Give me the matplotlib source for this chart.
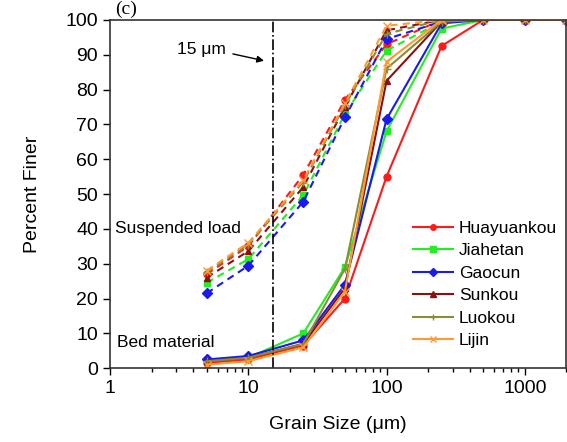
import matplotlib
matplotlib.use("Agg")
import matplotlib.pyplot as plt

plt.rcParams['font.family'] = ['Liberation Sans', 'DejaVu Sans']

sizes = [5, 10, 25, 50, 100, 250, 500, 1000, 2000]
sizes_susp = [5, 10, 25, 50, 100, 250]

stations = ['Huayuankou', 'Jiahetan', 'Gaocun', 'Sunkou', 'Luokou', 'Lijin']
colors = ['#ff1a1a', '#22ee22', '#1a1aee', '#8b1010', '#8c8c30', '#ff9933']
markers = ['o', 's', 'D', '^', '+', 'x']

bed = [
    [1.5, 2.5, 6.5, 20.0, 55.0, 92.5, 100, 100, 100],
    [2.0, 3.0, 10.0, 29.0, 68.0, 97.5, 100, 100, 100],
    [2.5, 3.5, 8.0, 24.0, 71.5, 99.0, 100, 100, 100],
    [2.0, 3.0, 7.0, 23.0, 82.5, 99.5, 100, 100, 100],
    [2.0, 3.0, 7.0, 28.5, 86.0, 99.5, 100, 100, 100],
    [1.0, 2.0, 6.0, 22.0, 88.0, 100, 100, 100, 100],
]

susp = [
    [27.0, 35.0, 55.5, 77.0, 93.0, 100],
    [24.5, 31.3, 49.7, 73.0, 91.2, 99.5],
    [21.5, 29.4, 47.8, 72.0, 94.5, 99.5],
    [26.0, 33.6, 52.0, 75.0, 97.0, 100],
    [27.5, 35.5, 53.5, 75.5, 96.0, 100],
    [28.0, 36.0, 54.0, 76.0, 98.3, 100],
]

fig = plt.figure(figsize=(5.67, 4.42), dpi=100)
ax = fig.add_axes([0.194, 0.167, 0.805, 0.788])

for i in range(len(stations)):
    ms = 5 if markers[i] not in ('+', 'x') else 6
    ax.plot(sizes_susp, susp[i], '--', color=colors[i], marker=markers[i],
            ms=ms, lw=1.5, dashes=(3.5, 2.5))
    ax.plot(sizes, bed[i], '-', color=colors[i], marker=markers[i],
            ms=ms, lw=1.5, label=stations[i])

ax.axvline(15, color='black', lw=1.2, linestyle='-.')

ax.set_xscale('log')
ax.set_xlim(1, 2000)
ax.set_ylim(0, 100)
ax.set_yticks(range(0, 101, 10))
ax.set_xticks([1, 10, 100, 1000])
ax.set_xticklabels(['1', '10', '100', '1000'])
ax.tick_params(labelsize=14, direction='out', length=5, width=1)
ax.tick_params(which='minor', direction='out', length=3, width=1)
for s in ax.spines.values():
    s.set_linewidth(1.2)
    s.set_color('#333333')

ax.set_xlabel('Grain Size (\u03bcm)', fontsize=14, labelpad=14)
ax.set_ylabel('Percent Finer', fontsize=14, labelpad=18)

ax.text(1.087, 40, 'Suspended load', fontsize=12.5, va='center')
ax.text(1.13, 7.5, 'Bed material', fontsize=12.5, va='center')
ax.text(3.05, 91.4, '15 \u03bcm', fontsize=12.5, va='center')
ax.annotate('', xy=(13.6, 88.1), xytext=(7.4, 90.4),
            arrowprops=dict(arrowstyle='-|>', color='black', lw=1,
                            mutation_scale=10))

fig.text(0.203, 0.999, '(c)', fontsize=14, family='Liberation Serif',
         va='top')

ax.legend(loc='upper left', bbox_to_anchor=(0.664, 0.423), frameon=False,
          fontsize=12.5, handlelength=2.3, handletextpad=0.35,
          labelspacing=0.42, borderpad=0, borderaxespad=0, markerscale=0.8)

fig.savefig('out.png', dpi=100)
